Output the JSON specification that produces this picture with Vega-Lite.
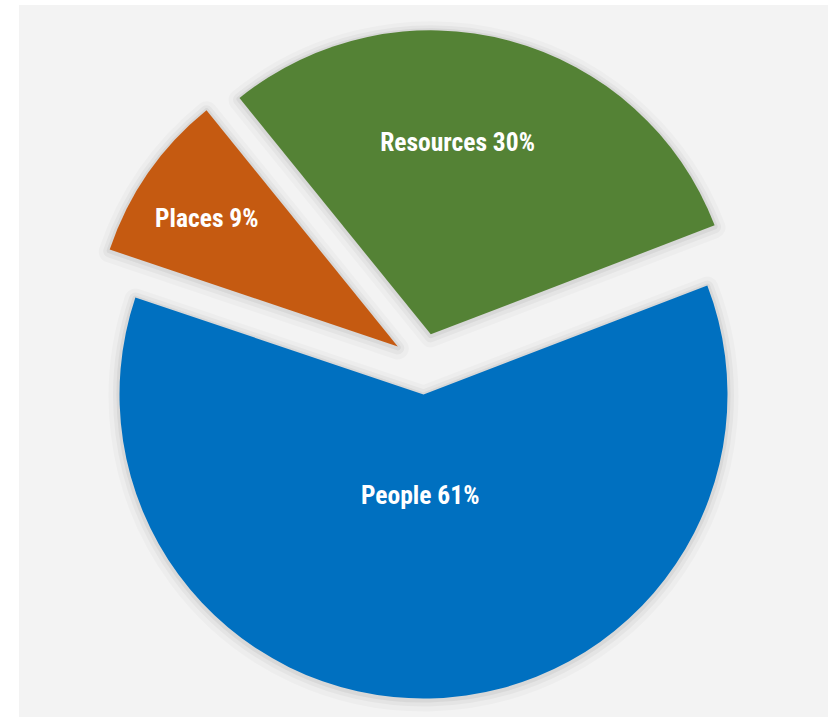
{
  "$schema": "https://vega.github.io/schema/vega-lite/v6.json",
  "width": 809,
  "height": 712,
  "autosize": "none",
  "padding": {"left": 19, "top": 5, "right": 7, "bottom": 1},
  "background": "#ffffff",
  "view": {"fill": "#f3f3f3", "stroke": null},
  "data": {
    "values": [
      {"category": "People", "value": 61},
      {"category": "Places", "value": 9},
      {"category": "Resources", "value": 30}
    ]
  },
  "encoding": {
    "theta": {
      "field": "value",
      "type": "quantitative",
      "stack": true,
      "scale": {"type": "linear", "domain": [0, 100], "range": [1.2043, 7.4875]}
    },
    "order": {"field": "category", "type": "ordinal", "sort": "ascending"}
  },
  "layer": [
    {
      "mark": {
        "type": "arc",
        "radius": 304,
        "fill": "transparent",
        "stroke": "#000000",
        "strokeOpacity": 0.025,
        "strokeWidth": 22,
        "strokeJoin": "round",
        "xOffset": {"expr": "datum.category === 'People' ? 0 : datum.category === 'Places' ? -25.7 : 7.3"},
        "yOffset": {"expr": "datum.category === 'People' ? 35.5 : datum.category === 'Places' ? -12.5 : -24.7"}
      },
      "encoding": {"detail": {"field": "category", "type": "nominal"}}
    },
    {
      "mark": {
        "type": "arc",
        "radius": 304,
        "fill": "transparent",
        "stroke": "#000000",
        "strokeOpacity": 0.035,
        "strokeWidth": 13,
        "strokeJoin": "round",
        "xOffset": {"expr": "datum.category === 'People' ? 0 : datum.category === 'Places' ? -25.7 : 7.3"},
        "yOffset": {"expr": "datum.category === 'People' ? 35 : datum.category === 'Places' ? -13 : -25.2"}
      },
      "encoding": {"detail": {"field": "category", "type": "nominal"}}
    },
    {
      "mark": {
        "type": "arc",
        "radius": 304,
        "fill": "transparent",
        "stroke": "#000000",
        "strokeOpacity": 0.05,
        "strokeWidth": 6,
        "strokeJoin": "round",
        "xOffset": {"expr": "datum.category === 'People' ? 0 : datum.category === 'Places' ? -25.7 : 7.3"},
        "yOffset": {"expr": "datum.category === 'People' ? 34.5 : datum.category === 'Places' ? -13.5 : -25.7"}
      },
      "encoding": {"detail": {"field": "category", "type": "nominal"}}
    },
    {
      "mark": {
        "type": "arc",
        "radius": 304,
        "xOffset": {"expr": "datum.category === 'People' ? 0 : datum.category === 'Places' ? -25.7 : 7.3"},
        "yOffset": {"expr": "datum.category === 'People' ? 33.5 : datum.category === 'Places' ? -14.5 : -26.7"}
      },
      "encoding": {
        "color": {
          "field": "category",
          "type": "nominal",
          "scale": {"domain": ["People", "Places", "Resources"], "range": ["#0070C0", "#C55A11", "#548235"]},
          "legend": null
        }
      }
    },
    {
      "mark": {
        "type": "text",
        "font": "Roboto Condensed, Roboto, sans-serif",
        "fontSize": 25.5,
        "fontWeight": "bold",
        "fill": "#ffffff",
        "align": "center",
        "baseline": "middle",
        "radius": {"expr": "datum.category === 'People' ? 134.9 : datum.category === 'Places' ? 259.2 : 220.3"},
        "xOffset": {"expr": "datum.category === 'People' ? -6.1 : datum.category === 'Places' ? -3.9 : -23"},
        "yOffset": {"expr": "datum.category === 'People' ? 0.6 : datum.category === 'Places' ? 5.9 : -5.7"}
      },
      "encoding": {
        "detail": {"field": "category", "type": "nominal"},
        "text": {"field": "label", "type": "nominal"}
      },
      "transform": [{"calculate": "datum.category + ' ' + datum.value + '%'", "as": "label"}]
    }
  ]
}
